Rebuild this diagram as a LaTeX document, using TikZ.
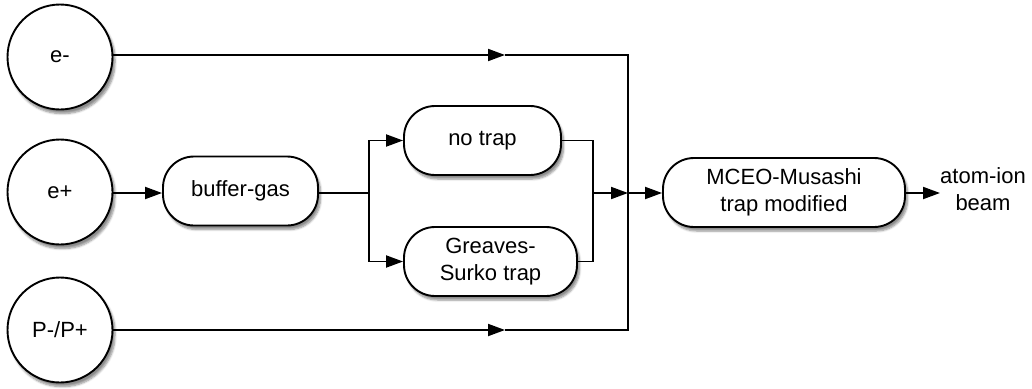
\documentclass[tikz,border=0pt]{standalone}
\usepackage{fontspec}
\setmainfont{Liberation Sans}
\usetikzlibrary{arrows.meta,shadows.blur}

\tikzset{
  wire/.style={line width=1.9pt, line join=miter},
  tip/.style={wire, -{Triangle[length=17pt,width=12pt]}},
  shade/.style={blur shadow={shadow blur steps=6, shadow xshift=2.5pt, shadow yshift=-4pt, shadow opacity=45, shadow blur extra rounding=2pt}},
  source/.style={circle, draw, line width=1.9pt, fill=white, minimum size=105pt, inner sep=0pt, shade, font=\fontsize{22}{27}\selectfont},
  stage/.style={rectangle, rounded corners=31pt, draw, line width=1.9pt, fill=white, inner sep=0pt, minimum height=69pt, align=center, shade, font=\fontsize{22}{27}\selectfont},
  label/.style={align=center, inner sep=0pt, font=\fontsize{22}{27}\selectfont}
}

\begin{document}
\begin{tikzpicture}[x=1pt, y=-1pt]
  \useasboundingbox (0,0) rectangle (1032,388);

  % particle sources
  \node[source] (em) at (60,57) {e-};
  \node[source] (ep) at (60,192) {e+};
  \node[source] (pp) at (60,330) {P-/P+};

  % processing stages
  \node[stage, minimum width=155pt] (buf) at (240.5,191) {buffer-gas};
  \node[stage, minimum width=157pt] (notrap) at (482.5,140.5) {no trap};
  \node[stage, minimum width=173pt] (gs) at (490.5,261.5) {Greaves-\\Surko trap};
  \node[stage, minimum width=242pt] (mceo) at (784,192.5) {MCEO-Musashi\\trap modified};
  \node[label] (beam) at (983,189) {atom-ion\\beam};

  % routing points
  \coordinate (split) at (369,193);
  \coordinate (merge) at (593,193);
  \coordinate (join) at (628,193);
  \coordinate (jtop) at (628,55);
  \coordinate (jbot) at (628,330);
  \coordinate (emtip) at (505,55);
  \coordinate (pptip) at (505,330);

  % direct beams to the junction
  \draw[tip] (em.east |- emtip) -- (emtip);
  \draw[wire] (emtip) -- (jtop) -- (jbot) -- (pptip);
  \draw[tip] (pp.east |- pptip) -- (pptip);

  % positron line
  \draw[tip] (ep.east |- split) -- (buf.west |- split);
  \draw[wire] (buf.east |- split) -- (split);
  \draw[tip] (split) |- (notrap.west);
  \draw[tip] (split) |- (gs.west);
  \draw[wire] (notrap.east) -| (merge);
  \draw[wire] (gs.east) -| (merge);
  \draw[tip] (merge) -- (join);
  \draw[tip] (join) -- (mceo.west |- join);
  \draw[tip] (mceo.east |- join) -- (beam.west |- join);
\end{tikzpicture}
\end{document}
